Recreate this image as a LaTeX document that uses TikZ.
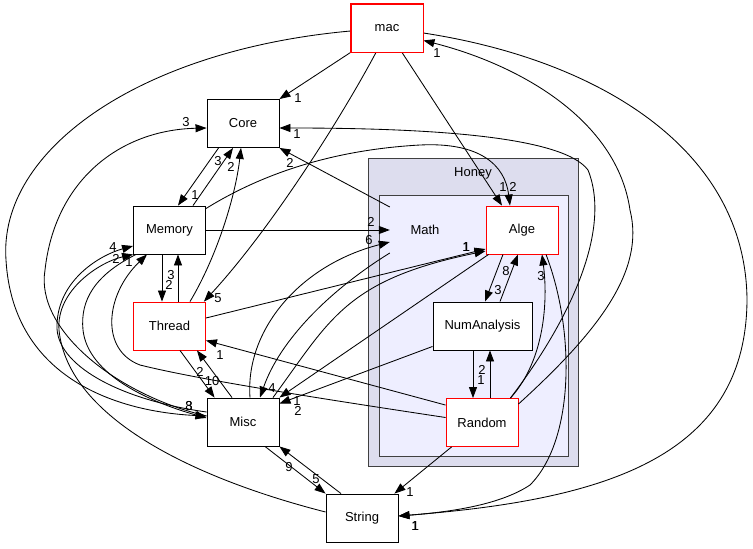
\documentclass[tikz,border=0pt]{standalone}
\usepackage{fontspec}
\setmainfont{Liberation Sans}
\usetikzlibrary{arrows.meta}
\newcommand\dgfont{\fontsize{13}{15}\selectfont}
\definecolor{honeyfill}{HTML}{DDDDEE}
\definecolor{mathfill}{HTML}{EEEEFF}
\definecolor{clborder}{HTML}{404040}
\definecolor{boxred}{HTML}{FF0000}
\begin{document}
\begin{tikzpicture}[x=1pt,y=-1pt,
  box/.style={draw=black, line width=0.9pt, fill=white, minimum width=72pt, minimum height=48pt, inner sep=0pt, font=\dgfont},
  redbox/.style={box, draw=boxred},
  e/.style={-{Triangle[length=11pt,width=8pt]}, line width=0.85pt},
  lab/.style={font=\dgfont, inner sep=0pt},
  cluster/.style={draw=clborder, line width=1pt}
]
\useasboundingbox (0,0) rectangle (753,549);
% clusters
\draw[cluster, fill=honeyfill] (368,158) rectangle (578,466);
\node[lab] (honeylab) at (473,173) {Honey};
\draw[cluster, fill=mathfill] (379,195) rectangle (568,456);
% nodes
\node[redbox] (mac) at (387,28) {mac};
\node[box] (Core) at (243,123.5) {Core};
\node[box] (Memory) at (169.5,230) {Memory};
\node[redbox] (Thread) at (169.5,326) {Thread};
\node[box] (Misc) at (243,422) {Misc};
\node[box] (String) at (362,518) {String};
\node[redbox] (Alge) at (522,230) {Alge};
\node[box, minimum width=99pt] (NumAnalysis) at (482.5,326) {NumAnalysis};
\node[redbox] (Random) at (482,422.5) {Random};
\node[minimum width=72pt, minimum height=48pt, inner sep=0pt, font=\dgfont] (Math) at (425,230) {Math};

% edges
\draw[e] (mac.south west) -- (Core.north east);
\draw[e] ([shift={(-11,0)}]mac.south) .. controls (340,120) and (270,230) .. ([shift={(-2,0)}]Thread.north east);
\draw[e] ([shift={(15,0)}]mac.south) -- ([shift={(-20,0)}]Alge.north);
\draw[e] ([shift={(0,3)}]Memory.north east) .. controls (260,175) and (330,150) .. (420,145) .. controls (480,142) and (505,165) .. ([shift={(-12,0)}]Alge.north);
\draw[e] ([shift={(0,6)}]Random.north east) .. controls (600,330) and (645,270) .. (630,210) .. controls (617,120) and (520,65) .. ([shift={(0,-12)}]mac.south east);
\draw[e] ([shift={(-8,0)}]Random.north east) .. controls (570,320) and (612,230) .. (588,170) .. controls (562,135) and (420,128) .. ([shift={(0,4.5)}]Core.east);
\draw[e] ([shift={(0,5)}]mac.east) .. controls (600,60) and (746,150) .. (747,300) .. controls (746,460) and (600,500) .. ([shift={(0,-2)}]String.east);
\draw[e] ([shift={(0,3)}]mac.west) .. controls (140,50) and (-2,150) .. (6,260) .. controls (13,380) and (120,412) .. ([shift={(0,-6)}]Misc.west);
\draw[e] ([shift={(12,0)}]Core.south west) -- ([shift={(8.5,0)}]Memory.north);
\draw[e] ([shift={(23.5,0)}]Memory.north) -- ([shift={(-10,0)}]Core.south);
\draw[e] ([shift={(20.5,0)}]Thread.north) .. controls (215,260) and (235,200) .. ([shift={(-2,0)}]Core.south);
\draw[e] ([shift={(-7.5,0)}]Memory.south) -- ([shift={(-7.5,0)}]Thread.north);
\draw[e] ([shift={(8.5,0)}]Thread.north) -- ([shift={(8.5,0)}]Memory.south);
\draw[e] (Memory.east) -- ([shift={(1,0)}]Math.west);
\draw[e] ([shift={(7,0)}]Misc.north) .. controls (245,330) and (300,265) .. ([shift={(1,12)}]Math.west);
\draw[e] ([shift={(1,23)}]Math.west) .. controls (330,290) and (280,340) .. ([shift={(17,0)}]Misc.north);
\draw[e] ([shift={(1,-23)}]Math.west) -- (Core.south east);
\draw[e] ([shift={(0,-8)}]Thread.east) -- ([shift={(0,19)}]Alge.west);
\draw[e] ([shift={(30,0)}]Misc.north) .. controls (330,320) and (345,280) .. ([shift={(0,21)}]Alge.west);
\draw[e] ([shift={(3,0)}]Alge.south west) -- (Misc.north east);
\draw[e] ([shift={(0,-4)}]NumAnalysis.south west) -- ([shift={(0,6)}]Misc.north east);
\draw[e] ([shift={(0,7)}]Random.north west) -- ([shift={(0,-10)}]Thread.south east);
\draw[e] ([shift={(0,-5)}]Random.west) .. controls (330,400) and (200,380) .. (140,365) .. controls (100,350) and (105,295) .. ([shift={(-22.5,0)}]Memory.south);
\draw[e] ([shift={(10.5,0)}]Thread.south) -- ([shift={(8,0)}]Misc.north west);
\draw[e] ([shift={(-11,0)}]Misc.north) -- ([shift={(27.5,0)}]Thread.south);
\draw[e] ([shift={(22,0)}]Misc.south) -- (String.north west);
\draw[e] ([shift={(-21,0)}]String.north) -- (Misc.south east);
\draw[e] ([shift={(6,0)}]Random.south west) -- ([shift={(-4,0)}]String.north east);
\draw[e] ([shift={(0,-6)}]String.west) .. controls (200,480) and (68,420) .. (59,330) .. controls (56,290) and (100,262) .. (Memory.south west);
\draw[e] ([shift={(0,-10)}]Misc.west) .. controls (120,400) and (55,365) .. (57,325) .. controls (58,280) and (100,255) .. ([shift={(0,16)}]Memory.west);
\draw[e] ([shift={(3,0)}]Memory.south west) .. controls (95,275) and (80,300) .. (83,330) .. controls (88,375) and (150,402) .. ([shift={(0,-4)}]Misc.west);
\draw[e] ([shift={(0,-6)}]Misc.west) .. controls (117,395) and (35,330) .. (45,270) .. controls (55,180) and (120,130) .. ([shift={(0,4.5)}]Core.west);
\draw[e] ([shift={(-8,0)}]Random.north east) .. controls (545,360) and (548,300) .. ([shift={(20,0)}]Alge.south);
\draw[e] ([shift={(24,0)}]Alge.south) .. controls (575,330) and (575,440) .. (530,485) .. controls (500,505) and (450,512) .. ([shift={(0,-2)}]String.east);
\draw[e] ([shift={(-19,0)}]Alge.south) -- ([shift={(2.5,0)}]NumAnalysis.north);
\draw[e] ([shift={(17.5,0)}]NumAnalysis.north) -- ([shift={(-4,0)}]Alge.south);
\draw[e] ([shift={(-9.5,0)}]NumAnalysis.south) -- ([shift={(-9,0)}]Random.north);
\draw[e] ([shift={(8,0)}]Random.north) -- ([shift={(7.5,0)}]NumAnalysis.south);
% red outline of mac on top
\draw[boxred, line width=0.9pt] (mac.south west) rectangle (mac.north east);

% labels
\node[lab] (l1) at (298,98) {1};
\node[lab] (l2) at (218,298) {5};
\node[lab] (l3) at (503,187) {1};
\node[lab] (l4) at (513,187) {2};
\node[lab] (l5) at (437,53) {1};
\node[lab] (l6) at (297,134) {1};
\node[lab] (l7) at (415,526) {1};
\node[lab] (l7b) at (415.5,526.5) {1};
\node[lab] (l8) at (189,406) {8};
\node[lab] (l9) at (189,406) {3};
\node[lab] (l10) at (195,195) {1};
\node[lab] (l11) at (218,161) {3};
\node[lab] (l12) at (231,167) {2};
\node[lab] (l13) at (171,275) {3};
\node[lab] (l14) at (169,285) {2};
\node[lab] (l15) at (371,222) {2};
\node[lab] (l16) at (369,240) {6};
\node[lab] (l17) at (272,388) {4};
\node[lab] (l18) at (290,163) {2};
\node[lab] (l19) at (466,247) {1};
\node[lab] (l19b) at (466.5,247.5) {1};
\node[lab] (l20) at (297,401) {1};
\node[lab] (l21) at (298,411) {2};
\node[lab] (l22) at (220,355) {1};
\node[lab] (l23) at (129,262) {1};
\node[lab] (l24) at (200,372) {2};
\node[lab] (l25) at (212,381) {10};
\node[lab] (l26) at (316,479) {5};
\node[lab] (l27) at (289,467) {9};
\node[lab] (l28) at (410,492) {1};
\node[lab] (l29) at (116,259) {2};
\node[lab] (l30) at (113,247) {4};
\node[lab] (l31) at (186,122) {3};
\node[lab] (l32) at (541,276) {3};
\node[lab] (l33) at (498,290) {3};
\node[lab] (l34) at (506,271) {8};
\node[lab] (l35) at (482,370) {2};
\node[lab] (l36) at (481,380) {1};
\end{tikzpicture}
\end{document}
